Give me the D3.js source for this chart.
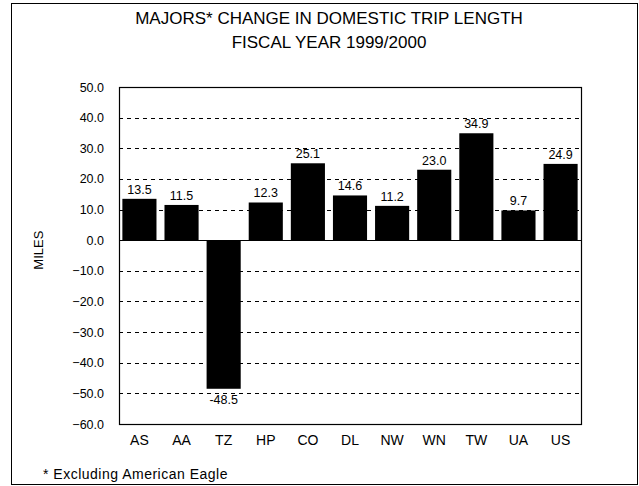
<!DOCTYPE html>
<html>
<head>
<meta charset="utf-8">
<script src="https://cdn.jsdelivr.net/npm/d3@7"></script>
<style>
  html, body { margin: 0; padding: 0; background: #fff; }
  svg { display: block; font-family: "Liberation Sans", Arial, sans-serif; }
</style>
</head>
<body>
<svg id="chart" width="639" height="486"></svg>
<script>
// Airline carrier codes and change in average domestic trip length (miles)
const carriers = ["AS", "AA", "TZ", "HP", "CO", "DL", "NW", "WN", "TW", "UA", "US"];
const changeMiles = [13.5, 11.5, -48.5, 12.3, 25.1, 14.6, 11.2, 23.0, 34.9, 9.7, 24.9];
const yTicks = [50, 40, 30, 20, 10, 0, -10, -20, -30, -40, -50, -60];
const titleLines = ["MAJORS* CHANGE IN DOMESTIC TRIP LENGTH", "FISCAL YEAR 1999/2000"];
const footnote = "* Excluding American Eagle";

const data = carriers.map((c, i) => ({ carrier: c, value: changeMiles[i] }));

const svg = d3.select("#chart");
const plot = { left: 119, right: 581, top: 87, bottom: 424 };

// Outer frame
svg.append("rect")
  .attr("x", 11.5).attr("y", 3.5)
  .attr("width", 626).attr("height", 481)
  .attr("fill", "none").attr("stroke", "#000").attr("stroke-width", 1);

// Title
svg.append("g").selectAll("text")
  .data(titleLines).join("text")
  .attr("x", 329).attr("y", (d, i) => 24 + i * 24)
  .attr("text-anchor", "middle")
  .attr("font-size", 17)
  .text(d => d);

const x = d3.scaleBand()
  .domain(carriers)
  .range([plot.left, plot.right])
  .paddingInner(0.19).paddingOuter(0.08);

const y = d3.scaleLinear()
  .domain([-60, 50])
  .range([plot.bottom, plot.top]);

// Dashed gridlines
svg.append("g").selectAll("line")
  .data(yTicks.filter(t => t !== 50 && t !== -60 && t !== 0))
  .join("line")
  .attr("x1", plot.left).attr("x2", plot.right)
  .attr("y1", d => Math.round(y(d)) + 0.5).attr("y2", d => Math.round(y(d)) + 0.5)
  .attr("stroke", "#000").attr("stroke-width", 1)
  .attr("stroke-dasharray", "4,4");

// Bars
svg.append("g").selectAll("rect")
  .data(data).join("rect")
  .attr("x", d => x(d.carrier))
  .attr("width", x.bandwidth())
  .attr("y", d => y(Math.max(0, d.value)))
  .attr("height", d => Math.abs(y(d.value) - y(0)))
  .attr("fill", "#000");

// Zero line
svg.append("line")
  .attr("x1", plot.left).attr("x2", plot.right)
  .attr("y1", Math.round(y(0)) + 0.5).attr("y2", Math.round(y(0)) + 0.5)
  .attr("stroke", "#000").attr("stroke-width", 1.2);

// Plot frame
svg.append("rect")
  .attr("x", plot.left + 0.5).attr("y", plot.top + 0.5)
  .attr("width", plot.right - plot.left).attr("height", plot.bottom - plot.top)
  .attr("fill", "none").attr("stroke", "#000").attr("stroke-width", 1.2);

// Value labels
svg.append("g").selectAll("text")
  .data(data).join("text")
  .attr("x", d => x(d.carrier) + x.bandwidth() / 2)
  .attr("y", d => d.value >= 0 ? y(d.value) - 5 : y(d.value) + 15)
  .attr("text-anchor", "middle")
  .attr("font-size", 12.5)
  .text(d => d.value.toFixed(1));

// Y axis labels
const yAxis = d3.axisLeft(y)
  .tickValues(yTicks)
  .tickSize(0)
  .tickPadding(15)
  .tickFormat(d3.format(".1f"));
const yg = svg.append("g")
  .attr("transform", `translate(${plot.left},0)`)
  .call(yAxis);
yg.select(".domain").remove();
yg.selectAll("text")
  .attr("font-size", 12.5)
  .attr("font-family", "Liberation Sans, Arial, sans-serif")
  .attr("fill", "#000");

// X axis labels
const xAxis = d3.axisBottom(x).tickSize(0).tickPadding(11);
const xg = svg.append("g")
  .attr("transform", `translate(0,${plot.bottom})`)
  .call(xAxis);
xg.select(".domain").remove();
xg.selectAll("text")
  .attr("font-size", 14)
  .attr("font-family", "Liberation Sans, Arial, sans-serif")
  .attr("fill", "#000");

// Y axis title
svg.append("text")
  .attr("transform", `translate(43,${y(0) + 10}) rotate(-90)`)
  .attr("text-anchor", "middle")
  .attr("font-size", 13)
  .text("MILES");

// Footnote
svg.append("text")
  .attr("x", 43).attr("y", 479)
  .attr("font-size", 14)
  .attr("letter-spacing", 0.5)
  .text(footnote);
</script>
</body>
</html>
